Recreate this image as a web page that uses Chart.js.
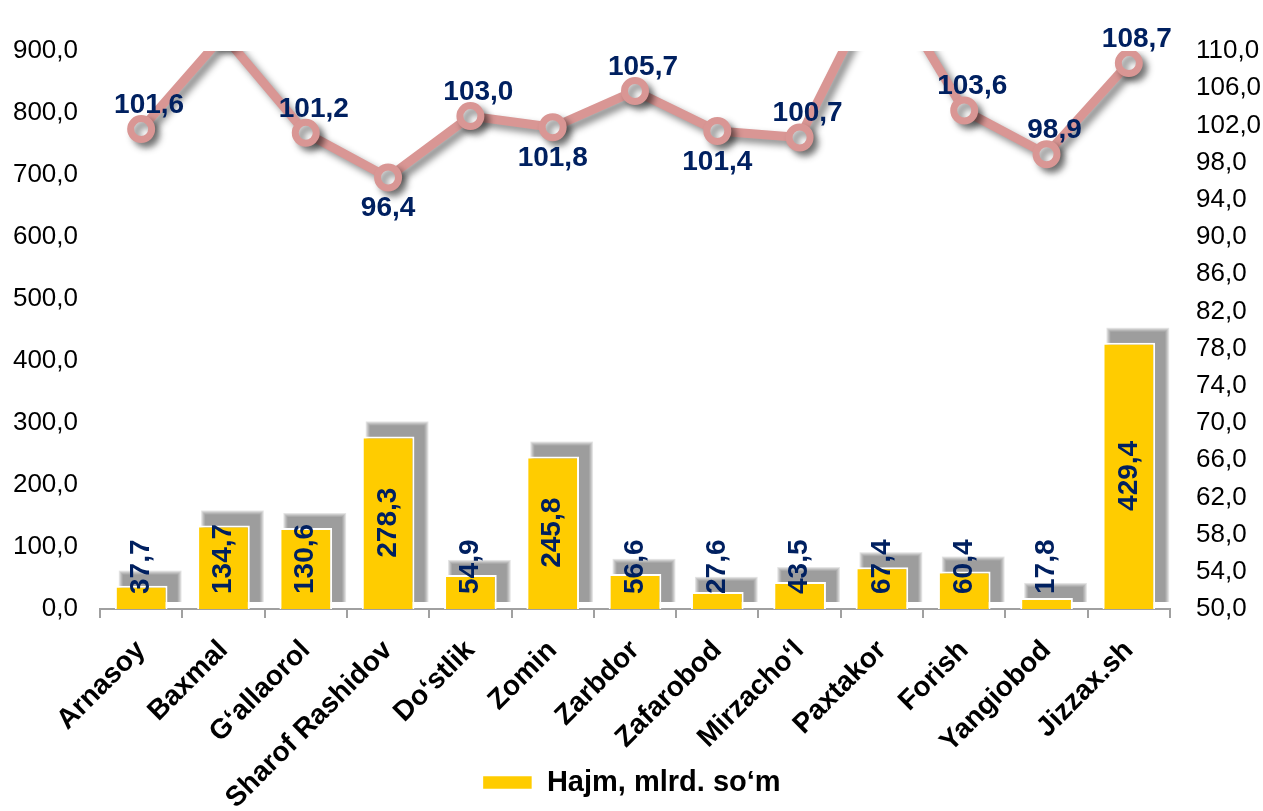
<!DOCTYPE html>
<html>
<head>
<meta charset="utf-8">
<script src="https://cdn.jsdelivr.net/npm/chart.js@4.4.1/dist/chart.umd.min.js"></script>
<style>
  html, body { margin: 0; padding: 0; background: #fff; }
  #wrap { width: 1263px; height: 811px; }
</style>
</head>
<body>
<div id="wrap"><canvas id="chart"></canvas></div>
<script>
// hududlar
var categories = ['Arnasoy', 'Baxmal', 'G‘allaorol', 'Sharof Rashidov', 'Do‘stlik', 'Zomin', 'Zarbdor',
    'Zafarobod', 'Mirzacho‘l', 'Paxtakor', 'Forish', 'Yangiobod', 'Jizzax.sh'];
// hajm, mlrd. so'm (chap o'q)
var hajm = [37.7, 134.7, 130.6, 278.3, 54.9, 245.8, 56.6, 27.6, 43.5, 67.4, 60.4, 17.8, 429.4];
// o'sish sur'ati, % (o'ng o'q) - Baxmal va Paxtakor shkaladan tashqarida
var osish = [101.6, 111.7, 101.2, 96.4, 103.0, 101.8, 105.7, 101.4, 100.7, 118.3, 103.6, 98.9, 108.7];
// yorliq tepada yoki pastda
var labelSide = ['up', 'up', 'up', 'down', 'up', 'down', 'up', 'down', 'up', 'up', 'up', 'up', 'up'];

var FONT = '"Liberation Sans", Arial, sans-serif';
var BAR_PCT = 0.64;
function fmt(v) { return v.toFixed(1).replace('.', ','); }

var shadowPlugin = {
    id: 'shadows',
    beforeDatasetsDraw: function (chart) {
        // ustunlar soyasi: o'ngga va tepaga (blur o'rniga qatlamlar)
        var ctx = chart.ctx;
        var sx = chart.scales.x, sy = chart.scales.y;
        var area = chart.chartArea;
        var w = area.width / categories.length * BAR_PCT;
        ctx.save();
        ctx.fillStyle = 'rgba(90,90,90,0.16)';
        hajm.forEach(function (v, i) {
            var x = sx.getPixelForValue(i);
            var top = sy.getPixelForValue(v);
            for (var k = 4; k >= 0; k--) {
                ctx.fillRect(x - w / 2 + 8 - k, top - 11 - k, w + 2 + 2 * k, area.bottom - top + 4 + k);
            }
        });
        ctx.restore();
    },
    beforeDatasetDraw: function (chart, args) {
        var ctx = chart.ctx;
        ctx.save();
        if (args.index === 1) {
            ctx.shadowColor = 'rgba(0,0,0,0.45)';
            ctx.shadowBlur = 7;
            ctx.shadowOffsetX = 5;
            ctx.shadowOffsetY = 5;
        }
    },
    afterDatasetDraw: function (chart) {
        chart.ctx.restore();
    }
};

var labelPlugin = {
    id: 'valueLabels',
    afterDatasetsDraw: function (chart) {
        var ctx = chart.ctx;
        var area = chart.chartArea;
        ctx.save();
        ctx.font = 'bold 28px ' + FONT;
        ctx.fillStyle = '#002060';
        ctx.textAlign = 'center';
        ctx.textBaseline = 'middle';

        chart.getDatasetMeta(0).data.forEach(function (bar, i) {
            var txt = fmt(hajm[i]);
            var w = ctx.measureText(txt).width;
            var cy = Math.min((bar.base + bar.y) / 2, bar.base - 15 - w / 2);
            ctx.save();
            ctx.translate(bar.x, cy);
            ctx.rotate(-Math.PI / 2);
            ctx.fillText(txt, 0, 0);
            ctx.restore();
        });

        chart.getDatasetMeta(1).data.forEach(function (pt, i) {
            if (pt.y < area.top) return;
            if (labelSide[i] === 'up') {
                ctx.fillText(fmt(osish[i]), pt.x + 8, pt.y - 24);
            } else {
                ctx.fillText(fmt(osish[i]), pt.x, pt.y + 31);
            }
        });
        ctx.restore();
    }
};

var chart = document.getElementById('chart').getContext('2d');
var myChart = new Chart(chart, {
    type: 'bar',
    data: {
        labels: categories,
        datasets: [{
            type: 'bar',
            label: 'Hajm, mlrd. so‘m',
            data: hajm,
            yAxisID: 'y',
            backgroundColor: '#FFCC00',
            borderColor: '#FFFFFF',
            borderWidth: { top: 2, left: 2, right: 2, bottom: 0 },
            borderSkipped: false,
            categoryPercentage: 1,
            barPercentage: BAR_PCT,
            order: 2
        }, {
            type: 'line',
            label: 'O‘sish sur’ati, %',
            data: osish,
            yAxisID: 'y1',
            borderColor: '#D99694',
            borderWidth: 9,
            pointRadius: 10.5,
            pointBorderWidth: 7,
            pointBackgroundColor: '#FFFFFF',
            pointBorderColor: '#D99694',
            tension: 0,
            clip: 0,
            order: 1
        }]
    },
    options: {
        responsive: true,
        maintainAspectRatio: false,
        animation: false,
        layout: { padding: { top: 51, right: 0, bottom: 4, left: 0 } },
        plugins: {
            legend: {
                display: true,
                position: 'bottom',
                labels: {
                    filter: function (item) { return item.datasetIndex === 0; },
                    boxWidth: 50,
                    boxHeight: 14,
                    padding: 8,
                    color: '#000',
                    font: { family: FONT, size: 29, weight: 'bold' }
                }
            },
            tooltip: { enabled: false }
        },
        scales: {
            x: {
                grid: {
                    offset: true,
                    drawOnChartArea: false,
                    drawTicks: true,
                    tickLength: 9,
                    color: '#A0A0A0',
                    lineWidth: 2
                },
                border: { display: true, color: '#A0A0A0', width: 2 },
                ticks: {
                    maxRotation: 45,
                    minRotation: 45,
                    autoSkip: false,
                    padding: 16,
                    color: '#000',
                    font: { family: FONT, size: 28, weight: 'bold' }
                },
                afterFit: function (scale) {
                    scale.height = 151;
                    // uzun yorliqlar legend ustiga tushsin, kesilmasin
                    scale._computeLabelArea = function () { return undefined; };
                }
            },
            y: {
                position: 'left',
                min: 0,
                max: 900,
                grid: { display: false },
                border: { display: false },
                ticks: {
                    stepSize: 100,
                    padding: 14,
                    color: '#000',
                    font: { family: FONT, size: 26 },
                    callback: function (v) { return fmt(v); }
                },
                afterFit: function (scale) { scale.width = 100; }
            },
            y1: {
                position: 'right',
                min: 50,
                max: 110,
                grid: { display: false, drawTicks: false },
                border: { display: false },
                ticks: {
                    stepSize: 4,
                    padding: 26,
                    color: '#000',
                    font: { family: FONT, size: 26 },
                    callback: function (v) { return fmt(v); }
                },
                afterFit: function (scale) { scale.width = 93; }
            }
        }
    },
    plugins: [shadowPlugin, labelPlugin]
});
</script>
</body>
</html>
